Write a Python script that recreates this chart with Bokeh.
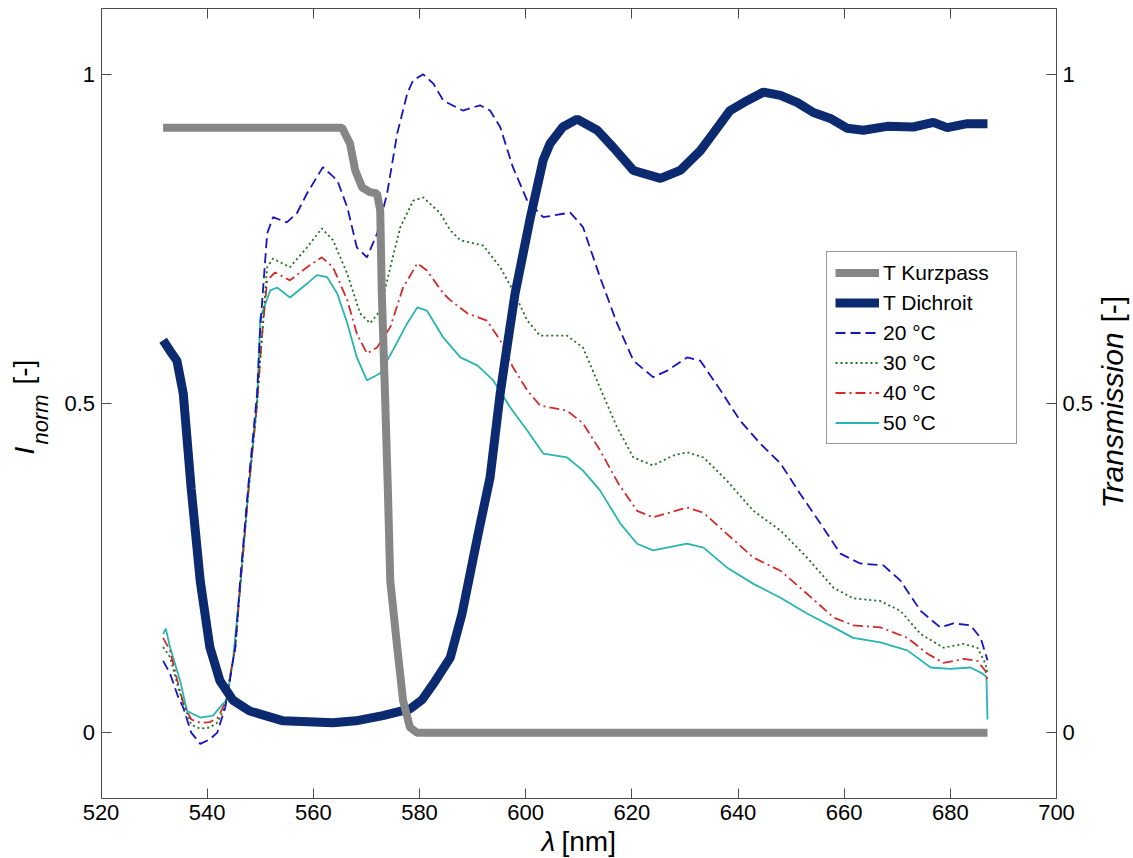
import math
from bokeh.plotting import figure
from bokeh.models import (Range1d, LinearAxis, FixedTicker, Legend, LegendItem,
                          Label, CustomJSTickFormatter)
from bokeh.embed import file_html
from bokeh.resources import INLINE

# ---------------- data ----------------
x_ticks = [520, 540, 560, 580, 600, 620, 640, 660, 680, 700]
y_ticks = [0, 0.5, 1]
y_tick_labels = {0: "0", 0.5: "0.5", 1: "1"}

lam_kurz = [531.7, 545.0, 555.0, 565.4, 566.9, 567.9, 569.2, 570.7, 572.0, 572.6, 572.9,
            573.5, 574.0, 574.5, 575.8, 576.9, 578.2, 579.5, 600.0, 650.0, 687.0]
t_kurz = [0.919, 0.919, 0.919, 0.919, 0.895, 0.854, 0.828, 0.821, 0.819, 0.793, 0.667,
          0.515, 0.38, 0.23, 0.13, 0.049, 0.008, 0.0, 0.0, 0.0, 0.0]

lam_di = [531.7, 533.0, 534.3, 535.5, 537.0, 538.7, 540.5, 542.4, 544.9, 548.0, 554.3,
          563.7, 568.0, 573.1, 578.2, 580.5, 582.6, 585.8, 588.0, 591.0, 593.3, 595.2,
          596.1, 598.0, 600.9, 603.3, 604.6, 607.0, 609.7, 613.5, 616.5, 620.3, 625.4,
          629.1, 632.9, 635.3, 638.5, 641.7, 644.8, 648.0, 651.2, 654.2, 657.4, 660.6,
          663.6, 668.1, 673.0, 676.8, 679.4, 683.2, 687.0]
t_di = [0.596, 0.58, 0.565, 0.515, 0.37, 0.23, 0.13, 0.079, 0.049, 0.033, 0.018,
        0.015, 0.018, 0.026, 0.036, 0.05, 0.074, 0.114, 0.18, 0.30, 0.388, 0.515,
        0.565, 0.667, 0.783, 0.87, 0.895, 0.92, 0.932, 0.915, 0.889, 0.854, 0.842,
        0.854, 0.884, 0.91, 0.945, 0.96, 0.973, 0.968, 0.957, 0.942, 0.933, 0.918,
        0.915, 0.921, 0.92, 0.927, 0.919, 0.925, 0.925]

lam_20 = [531.7, 533.0, 534.5, 535.5, 537.0, 538.7, 540.5, 541.9, 543.4, 545.3, 546.2,
          547.8, 549.4, 550.0, 551.3, 552.4, 555.0, 556.9, 558.8, 561.8, 564.5, 566.4,
          568.2, 570.1, 572.0, 573.9, 575.8, 577.7, 578.8, 580.7, 582.6, 584.5, 588.2,
          591.4, 593.3, 595.2, 597.6, 600.3, 603.3, 608.4, 610.8, 614.0, 617.2, 620.3,
          624.0, 626.7, 630.4, 632.9, 636.7, 640.4, 644.2, 648.0, 651.7, 655.5, 659.3,
          663.0, 667.4, 670.6, 674.4, 678.1, 680.6, 683.8, 685.7, 687.0]
i_20 = [0.109, 0.09, 0.055, 0.038, 0.0, -0.017, -0.01, 0.0, 0.038, 0.13, 0.23,
        0.38, 0.515, 0.615, 0.758, 0.783, 0.775, 0.789, 0.819, 0.859, 0.839, 0.798,
        0.737, 0.722, 0.758, 0.819, 0.91, 0.971, 0.991, 1.0, 0.986, 0.96, 0.945,
        0.953, 0.945, 0.92, 0.859, 0.808, 0.783, 0.79, 0.768, 0.692, 0.622, 0.565,
        0.54, 0.55, 0.57, 0.565, 0.52, 0.474, 0.439, 0.409, 0.363, 0.318, 0.272,
        0.257, 0.254, 0.231, 0.185, 0.16, 0.166, 0.163, 0.144, 0.11]

lam_30 = [531.7, 533.0, 534.5, 535.5, 537.0, 538.7, 540.5, 541.9, 543.4, 545.3, 546.2,
          547.8, 549.4, 550.3, 551.3, 552.4, 555.6, 558.8, 561.6, 563.7, 566.4, 568.8,
          570.7, 572.6, 574.5, 576.4, 578.8, 580.7, 583.9, 585.8, 587.7, 592.0, 595.2,
          597.6, 600.3, 602.7, 607.8, 610.8, 614.0, 617.2, 620.3, 624.0, 627.8, 630.4,
          633.5, 637.9, 642.9, 648.0, 653.0, 658.0, 661.7, 666.8, 670.6, 674.4, 678.7,
          682.5, 685.1, 686.6, 687.0]
i_30 = [0.13, 0.115, 0.07, 0.045, 0.012, 0.006, 0.008, 0.015, 0.04, 0.13, 0.22,
        0.37, 0.5, 0.6, 0.707, 0.72, 0.707, 0.737, 0.766, 0.748, 0.697, 0.637,
        0.622, 0.641, 0.707, 0.768, 0.808, 0.813, 0.789, 0.763, 0.748, 0.74, 0.707,
        0.672, 0.626, 0.603, 0.603, 0.585, 0.524, 0.464, 0.418, 0.406, 0.421, 0.426,
        0.418, 0.383, 0.337, 0.307, 0.266, 0.22, 0.204, 0.2, 0.185, 0.15, 0.129,
        0.135, 0.129, 0.105, 0.09]

lam_40 = [531.7, 533.0, 534.5, 535.5, 537.0, 538.7, 540.5, 541.9, 543.4, 545.3, 546.2,
          547.8, 549.4, 550.3, 551.3, 552.8, 555.6, 558.8, 561.6, 563.7, 566.4, 568.2,
          570.1, 572.0, 574.5, 576.9, 579.6, 581.4, 584.5, 585.8, 589.0, 592.7, 595.2,
          597.6, 600.3, 602.7, 607.8, 610.8, 614.0, 617.5, 621.0, 624.0, 630.4, 633.5,
          637.9, 642.9, 648.0, 653.0, 658.0, 661.7, 666.8, 671.9, 675.7, 678.7, 682.5,
          685.1, 686.6, 687.0]
i_40 = [0.144, 0.125, 0.075, 0.045, 0.02, 0.015, 0.016, 0.022, 0.045, 0.13, 0.22,
        0.37, 0.5, 0.6, 0.687, 0.699, 0.687, 0.707, 0.722, 0.707, 0.657, 0.606,
        0.576, 0.585, 0.616, 0.676, 0.713, 0.702, 0.667, 0.657, 0.637, 0.626, 0.596,
        0.555, 0.52, 0.497, 0.489, 0.47, 0.429, 0.378, 0.337, 0.327, 0.342, 0.334,
        0.302, 0.266, 0.246, 0.211, 0.175, 0.163, 0.16, 0.144, 0.12, 0.106, 0.112,
        0.109, 0.094, 0.08]

lam_50 = [531.7, 532.2, 533.0, 534.9, 536.2, 538.7, 541.1, 543.0, 543.7, 544.9, 546.2,
          547.8, 549.4, 550.0, 551.9, 553.2, 555.6, 558.8, 560.7, 562.6, 564.5, 566.4,
          568.2, 570.1, 572.6, 575.0, 577.7, 579.6, 581.4, 584.5, 587.7, 590.9, 593.9,
          597.1, 600.3, 603.3, 607.8, 610.8, 614.0, 617.8, 621.0, 624.0, 630.4, 633.5,
          637.9, 642.9, 648.0, 653.0, 658.0, 661.7, 666.8, 671.9, 676.3, 680.0, 683.8,
          686.0, 686.8, 687.0]
i_50 = [0.15, 0.158, 0.13, 0.079, 0.033, 0.023, 0.026, 0.044, 0.049, 0.114, 0.22,
        0.37, 0.5, 0.63, 0.672, 0.676, 0.661, 0.682, 0.695, 0.692, 0.667, 0.622,
        0.57, 0.535, 0.546, 0.581, 0.622, 0.646, 0.641, 0.6, 0.57, 0.558, 0.535,
        0.494, 0.459, 0.424, 0.418, 0.398, 0.368, 0.318, 0.287, 0.277, 0.287, 0.281,
        0.251, 0.226, 0.205, 0.181, 0.16, 0.144, 0.137, 0.125, 0.099, 0.097, 0.099,
        0.09, 0.085, 0.02]

# ---------------- layout / styles ----------------
FONT = "Liberation Sans"
AXIS_COL = "#4a4a4a"
C_KURZ = "#868686"
C_DI = "#0b2a6f"
C20 = "#1515c0"
C30 = "#1f6e1f"
C40 = "#d42a2a"
C50 = "#27b5b0"

X_MIN, X_MAX = 520, 700
Y_MIN, Y_MAX = -0.1, 1.1

W, H = 1133, 858
# pixel positions of the plot box on the canvas
BOX_L, BOX_R = 100.5, 1056.0
BOX_T, BOX_B = 8.0, 798.0
KX = (BOX_R - BOX_L) / (X_MAX - X_MIN)
KY = (BOX_B - BOX_T) / (Y_MAX - Y_MIN)
XR = (X_MIN - BOX_L / KX, X_MAX + (W - BOX_R) / KX)
YR = (Y_MIN - (H - BOX_B) / KY, Y_MAX + BOX_T / KY)

p = figure(width=W, height=H, output_backend="svg", toolbar_location=None,
           x_range=Range1d(*XR), y_range=Range1d(*YR),
           min_border_left=0, min_border_right=0, min_border_top=0,
           min_border_bottom=0)
p.extra_y_ranges = {"right": Range1d(*YR)}
p.grid.visible = False
p.outline_line_color = None
p.background_fill_color = "white"
p.border_fill_color = "white"


def style_axis(ax, show_labels=True):
    ax.axis_line_color = AXIS_COL
    ax.major_tick_line_color = AXIS_COL
    ax.major_tick_in = 10
    ax.major_tick_out = 0
    ax.minor_tick_line_color = None
    ax.major_label_text_font = FONT
    ax.major_label_text_font_size = "22px" if show_labels else "1px"
    ax.major_label_text_color = "black"
    ax.major_label_standoff = 6 if show_labels else 0


xa = p.xaxis[0]
xa.ticker = FixedTicker(ticks=x_ticks)
xa.bounds = (X_MIN, X_MAX)
xa.fixed_location = Y_MIN
style_axis(xa)

ya = p.yaxis[0]
ya.ticker = FixedTicker(ticks=y_ticks)
ya.major_label_overrides = y_tick_labels
ya.bounds = (Y_MIN, Y_MAX)
ya.fixed_location = X_MIN
style_axis(ya)

ra = LinearAxis(y_range_name="right", ticker=FixedTicker(ticks=y_ticks),
                major_label_overrides=y_tick_labels, bounds=(Y_MIN, Y_MAX),
                fixed_location=X_MAX)
style_axis(ra)
p.add_layout(ra, "right")

ta = LinearAxis(ticker=FixedTicker(ticks=x_ticks),
                formatter=CustomJSTickFormatter(code="return ''"),
                bounds=(X_MIN, X_MAX), fixed_location=Y_MAX)
style_axis(ta, show_labels=False)
p.add_layout(ta, "above")

# ---------------- curves ----------------
r50 = p.line(lam_50, i_50, line_color=C50, line_width=1.8)
r40 = p.line(lam_40, i_40, line_color=C40, line_width=1.8, line_dash="10 4 2 4")
r30 = p.line(lam_30, i_30, line_color=C30, line_width=1.8, line_dash="2 3")
r20 = p.line(lam_20, i_20, line_color=C20, line_width=1.8, line_dash="10 5")
rdi = p.line(lam_di, t_di, line_color=C_DI, line_width=9, y_range_name="right")
rk = p.line(lam_kurz, t_kurz, line_color=C_KURZ, line_width=8, y_range_name="right")

legend = Legend(items=[
    LegendItem(label="T Kurzpass", renderers=[rk]),
    LegendItem(label="T Dichroit", renderers=[rdi]),
    LegendItem(label="20 °C", renderers=[r20]),
    LegendItem(label="30 °C", renderers=[r30]),
    LegendItem(label="40 °C", renderers=[r40]),
    LegendItem(label="50 °C", renderers=[r50]),
], location=(826, H - 444))
legend.label_text_font = FONT
legend.label_text_font_size = "21px"
legend.label_text_color = "black"
legend.glyph_width = 44
legend.glyph_height = 25
legend.label_height = 25
legend.label_width = 125
legend.label_standoff = 4
legend.spacing = 5
legend.padding = 8
legend.margin = 0
legend.border_line_color = "#333333"
legend.border_line_width = 1
legend.background_fill_color = "white"
legend.background_fill_alpha = 1.0
p.add_layout(legend, "center")

# ---------------- axis titles (text annotations) ----------------
# helpers convert a canvas pixel position into data units
def dx(px):
    return XR[0] + px / KX


def dy(py):
    return YR[1] - py / KY


def add_text(px, py, text, size, style="normal", angle=0.0):
    p.add_layout(Label(x=dx(px), y=dy(py), text=text, text_font=FONT,
                       text_font_size=size, text_font_style=style,
                       text_color="black", angle=angle, text_align="left",
                       text_baseline="alphabetic"))


# x title: λ [nm]
add_text(541, 841, "λ", "28px", "italic")
add_text(561, 841, "[nm]", "28px")
# left title: I_norm [-]
add_text(24, 454, "I", "28px", "italic", math.pi / 2)
add_text(40, 444, "norm", "22px", "italic", math.pi / 2)
add_text(23, 384, "[-]", "28px", "normal", math.pi / 2)
# right title: Transmission [-]
add_text(1112, 508, "Transmission", "30px", "italic", math.pi / 2)
add_text(1112, 322, "[-]", "30px", "normal", math.pi / 2)

open("out.html", "w").write(file_html(p, INLINE))
